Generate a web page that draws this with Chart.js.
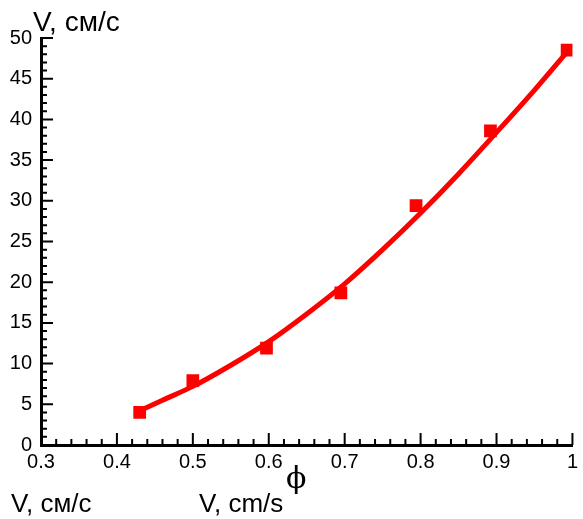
<!DOCTYPE html>
<html>
<head>
<meta charset="utf-8">
<script src="https://cdn.jsdelivr.net/npm/chart.js@4.4.0/dist/chart.umd.min.js"></script>
<style>
  html, body { margin: 0; padding: 0; background: #fff; }
  #wrap { position: relative; width: 583px; height: 519px; }
  .lbl { position: absolute; font-family: "Liberation Sans", Arial, sans-serif; color: #000; line-height: 1; white-space: nowrap; }
  .phi { font-family: "DejaVu Serif", "Liberation Serif", serif; }
</style>
</head>
<body>
<div id="wrap">
  <canvas id="chart" width="583" height="519"></canvas>
  <span class="lbl" style="left:33px; top:8px; font-size:28px;">V, см/с</span>
  <span class="lbl phi" style="left:286px; top:463px; font-size:30px;">ϕ</span>
  <span class="lbl" style="left:11px; top:490px; font-size:26px;">V, см/с</span>
  <span class="lbl" style="left:199px; top:490px; font-size:26px;">V, cm/s</span>
</div>
<script>
'use strict';

// measured points
let phiPoints = [0.43, 0.50, 0.597, 0.695, 0.794, 0.892, 0.993];
let speedPoints = [4.0, 7.9, 11.9, 18.7, 29.4, 38.6, 48.5];

// fitted curve
let phiCurve = [0.43, 0.46, 0.50, 0.55, 0.60, 0.65, 0.70, 0.75, 0.80, 0.85, 0.90, 0.95, 0.993];
let speedCurve = [4.2, 5.5, 7.2, 9.8, 12.7, 16.1, 19.8, 24.0, 28.5, 33.3, 38.4, 43.6, 48.3];

let canvasElem = document.getElementById('chart');

let pointData = [];
for (let i = 0; i < phiPoints.length; i++) {
  pointData.push({ x: phiPoints[i], y: speedPoints[i] });
}
let curveData = [];
for (let i = 0; i < phiCurve.length; i++) {
  curveData.push({ x: phiCurve[i], y: speedCurve[i] });
}

// inward ticks, major + minor
let inwardTicks = {
  id: 'inwardTicks',
  afterDraw(chart) {
    let ctx = chart.ctx;
    let xs = chart.scales.x;
    let ys = chart.scales.y;
    let area = chart.chartArea;
    ctx.save();
    ctx.strokeStyle = '#000';
    ctx.lineWidth = 2;
    ctx.beginPath();
    for (let i = 0; i <= 35; i++) {
      let px = xs.getPixelForValue(0.3 + i * 0.02);
      let len = (i % 5 === 0) ? 12 : 6;
      ctx.moveTo(px, area.bottom);
      ctx.lineTo(px, area.bottom - len);
    }
    for (let i = 0; i <= 50; i++) {
      let py = ys.getPixelForValue(i);
      let len = (i % 5 === 0) ? 12 : 6;
      ctx.moveTo(area.left, py);
      ctx.lineTo(area.left + len, py);
    }
    ctx.stroke();
    ctx.restore();
  }
};

let tickFont = { family: '"Liberation Sans", Arial, sans-serif', size: 20 };

let config = {
  type: 'scatter',
  data: {
    datasets: [
      {
        type: 'line',
        label: 'fit',
        data: curveData,
        borderColor: '#ff0000',
        borderWidth: 5,
        pointRadius: 0,
        cubicInterpolationMode: 'monotone',
        fill: false
      },
      {
        label: 'V',
        data: pointData,
        backgroundColor: '#ff0000',
        borderColor: '#ff0000',
        pointStyle: 'rect',
        pointRadius: 9,
        pointBorderWidth: 0
      }
    ]
  },
  options: {
    responsive: false,
    animation: false,
    layout: { padding: { top: 38, right: 7, left: 0, bottom: 0 } },
    plugins: {
      legend: { display: false },
      tooltip: { enabled: false }
    },
    scales: {
      x: {
        type: 'linear',
        min: 0.3,
        max: 1.0,
        grid: { display: false, drawTicks: false },
        border: { display: true, color: '#000', width: 3 },
        ticks: {
          stepSize: 0.1,
          color: '#000',
          font: tickFont,
          padding: 5,
          maxRotation: 0,
          callback: function (v) {
            let r = Math.round(v * 10) / 10;
            return r === 1 ? '1' : r.toFixed(1);
          }
        },
        afterFit: function (scale) { scale.height = 74; }
      },
      y: {
        type: 'linear',
        min: 0,
        max: 50,
        grid: { display: false, drawTicks: false },
        border: { display: true, color: '#000', width: 3 },
        ticks: {
          stepSize: 5,
          color: '#000',
          font: tickFont,
          padding: 9
        },
        afterFit: function (scale) { scale.width = 41; }
      }
    }
  },
  plugins: [inwardTicks]
};

new Chart(canvasElem, config);
</script>
</body>
</html>
